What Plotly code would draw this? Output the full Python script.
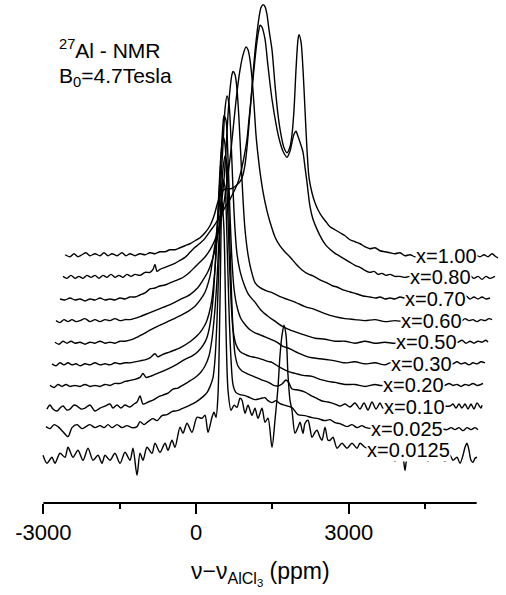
import plotly.graph_objects as go

# ---------------- data (ppm, intensity in a.u.) ----------------
labels = ["x=1.00", "x=0.80", "x=0.70", "x=0.60", "x=0.50",
          "x=0.30", "x=0.20", "x=0.10", "x=0.025", "x=0.0125"]

spec_100 = [(-2574,1),(-2476,-1),(-2397,2),(-2319,-1),(-2240,1),(-2162,3),(-2083,0),(-1985,2),(-1886,0),(-1808,3),(-1729,0),(-1651,2),(-1552,0),(-1454,3),(-1376,0),(-1297,2),(-1199,0),(-1100,2),(-1002,1),(-904,3),(-806,2),(-707,4),(-609,4),(-511,6),(-413,6),(-314,8),(-216,10),(-118,12),(-20,15),(79,18),(177,23),(275,30),(354,40),(432,54),(511,64),(590,67),(688,67),(786,70),(865,74),(924,81),(963,91),(1002,108),(1041,131),(1081,156),(1120,181),(1159,204),(1199,223),(1238,238),(1277,248),(1317,251),(1356,249),(1395,241),(1434,226),(1493,206),(1552,171),(1611,141),(1670,121),(1729,108),(1788,103),(1847,109),(1886,121),(1926,146),(1965,186),(2004,216),(2024,221),(2063,214),(2103,186),(2142,146),(2181,106),(2221,78),(2279,63),(2338,53),(2397,46),(2476,39),(2555,34),(2633,29),(2731,26),(2830,23),(2928,20),(3026,16),(3124,14),(3223,12),(3321,9),(3419,7),(3517,8),(3616,5),(3714,4),(3812,3),(3910,2),(4009,3),(4107,0),(4205,1),(4303,-1),(4402,0),(4500,1),(4598,0),(4696,1),(4795,0),(4893,1),(4991,0),(5089,1),(5188,0),(5286,1),(5384,0),(5482,1),(5581,-1),(5660,1),(5738,-1),(5817,2),(5895,-1),(5934,-2)]

spec_080 = [(-2613,1),(-2535,-1),(-2456,2),(-2378,-1),(-2299,1),(-2220,-1),(-2142,2),(-2063,0),(-1985,2),(-1906,-1),(-1827,2),(-1749,0),(-1670,3),(-1592,0),(-1513,2),(-1434,0),(-1356,3),(-1277,1),(-1199,3),(-1100,2),(-1002,5),(-904,5),(-845,8),(-806,13),(-766,6),(-707,8),(-609,10),(-511,12),(-413,14),(-314,17),(-216,20),(-118,25),(-20,30),(79,34),(177,39),(275,46),(373,53),(472,61),(570,70),(668,78),(747,86),(825,95),(884,106),(943,120),(1002,138),(1041,158),(1081,178),(1120,198),(1159,218),(1199,236),(1238,248),(1258,252),(1297,250),(1356,238),(1415,211),(1493,178),(1592,148),(1651,135),(1710,126),(1788,120),(1847,126),(1886,135),(1926,143),(1965,146),(2004,141),(2044,135),(2103,125),(2142,110),(2181,95),(2240,71),(2299,58),(2378,48),(2476,38),(2555,32),(2633,28),(2731,24),(2830,21),(2928,18),(3026,15),(3124,12),(3223,10),(3321,7),(3419,5),(3498,6),(3576,3),(3655,4),(3734,2),(3812,3),(3910,1),(4009,1),(4107,0),(4205,1),(4303,0),(4402,0),(4598,1),(4795,0),(4991,1),(5188,0),(5286,0),(5384,2),(5462,-1),(5541,1),(5620,-2),(5698,1),(5777,-1),(5875,1)]

spec_070 = [(-2672,0),(-2574,-1),(-2476,1),(-2378,-1),(-2279,0),(-2181,-2),(-2083,0),(-1985,-1),(-1886,1),(-1788,-1),(-1690,0),(-1592,-1),(-1493,1),(-1395,0),(-1297,2),(-1199,2),(-1100,4),(-1002,6),(-904,10),(-806,11),(-707,13),(-609,14),(-511,16),(-413,18),(-314,20),(-216,23),(-118,27),(-20,32),(79,37),(177,42),(275,49),(354,57),(432,67),(511,84),(570,103),(629,124),(688,149),(747,179),(806,207),(865,229),(924,244),(983,252),(1022,249),(1061,239),(1100,221),(1140,194),(1179,164),(1218,144),(1258,127),(1317,107),(1395,88),(1454,77),(1552,62),(1651,53),(1749,47),(1847,42),(1965,35),(2083,29),(2201,25),(2299,23),(2437,19),(2574,16),(2692,13),(2771,12),(2889,9),(3026,7),(3164,5),(3282,3),(3419,2),(3537,1),(3616,2),(3714,0),(3812,1),(3910,0),(4009,2),(4087,1),(4205,1),(4402,0),(4598,1),(4795,0),(4991,1),(5188,1),(5227,1),(5306,3),(5384,0),(5462,2),(5541,0),(5620,2),(5698,0),(5777,1)]

spec_060 = [(-2751,0),(-2672,-2),(-2594,1),(-2515,-1),(-2437,1),(-2358,-1),(-2279,0),(-2181,2),(-2083,-1),(-1985,1),(-1886,-1),(-1788,1),(-1690,0),(-1592,2),(-1493,0),(-1395,1),(-1297,1),(-1100,4),(-904,8),(-707,12),(-511,16),(-314,21),(-118,26),(20,32),(118,39),(236,49),(334,63),(413,81),(472,101),(511,121),(550,141),(590,171),(629,206),(668,231),(707,246),(727,249),(766,246),(806,231),(845,201),(884,161),(924,121),(963,91),(1022,66),(1081,51),(1159,38),(1258,33),(1375,30),(1493,28),(1651,24),(1808,21),(1965,18),(2142,14),(2338,11),(2535,7),(2731,4),(2928,2),(3124,1),(3321,0),(3517,1),(3714,-1),(3910,0),(4107,-1),(4205,0),(4402,0),(4598,1),(4795,0),(4991,1),(5129,1),(5207,-1),(5286,2),(5364,0),(5443,1),(5521,-1),(5600,1),(5679,0),(5757,2),(5816,1)]

spec_050 = [(-2771,0),(-2692,-2),(-2613,1),(-2535,-1),(-2456,1),(-2378,-1),(-2279,0),(-2181,-2),(-2083,0),(-1985,-1),(-1886,1),(-1788,-1),(-1690,0),(-1592,-1),(-1493,1),(-1395,1),(-1238,3),(-1081,7),(-904,12),(-707,17),(-452,23),(-216,29),(-20,36),(79,42),(177,50),(275,66),(334,85),(393,105),(452,133),(491,163),(531,198),(570,233),(609,246),(648,238),(688,203),(727,153),(766,113),(806,88),(865,71),(943,58),(1041,47),(1159,40),(1277,32),(1415,26),(1552,21),(1690,16),(1808,13),(1965,10),(2142,7),(2338,4),(2535,3),(2731,1),(2928,1),(3124,-1),(3321,1),(3517,-1),(3714,0),(3910,-1),(4009,1),(4205,0),(4402,0),(4598,1),(4795,0),(4991,0),(5148,0),(5227,2),(5306,-1),(5384,1),(5462,-1),(5541,1),(5620,0),(5698,2),(5738,0)]

spec_030 = [(-2830,0),(-2751,-2),(-2672,1),(-2594,-1),(-2515,1),(-2437,-1),(-2358,0),(-2279,-2),(-2181,0),(-2083,-1),(-1985,1),(-1886,-1),(-1788,0),(-1690,-1),(-1592,1),(-1493,0),(-1395,1),(-1297,1),(-1199,2),(-1100,3),(-1002,4),(-904,6),(-806,10),(-747,7),(-668,9),(-511,12),(-314,16),(-118,22),(20,28),(118,34),(197,41),(255,50),(314,65),(373,95),(413,125),(452,165),(491,205),(531,240),(550,248),(590,243),(629,205),(668,150),(707,103),(747,75),(806,57),(884,45),(983,38),(1061,34),(1159,31),(1258,29),(1356,27),(1493,24),(1611,21),(1690,18),(1847,15),(2004,11),(2142,8),(2279,6),(2437,5),(2594,4),(2731,3),(2928,1),(3124,2),(3321,0),(3517,1),(3714,-1),(3812,1),(4009,0),(4205,1),(4402,0),(4598,0),(4795,1),(4991,0),(5050,0),(5129,2),(5207,0),(5286,1),(5364,-1),(5443,1),(5521,0),(5600,2),(5679,1)]

spec_020 = [(-2869,0),(-2790,-2),(-2712,1),(-2633,-1),(-2555,1),(-2476,-1),(-2378,0),(-2279,-1),(-2181,1),(-2083,-1),(-1985,0),(-1886,-1),(-1788,1),(-1690,0),(-1592,2),(-1493,2),(-1395,4),(-1297,5),(-1199,6),(-1100,8),(-1041,12),(-983,8),(-904,9),(-806,11),(-707,13),(-570,16),(-413,20),(-216,26),(-59,30),(39,34),(138,40),(216,48),(275,61),(334,86),(373,116),(413,156),(452,196),(491,231),(531,249),(570,241),(609,196),(648,136),(688,86),(727,56),(786,41),(865,34),(963,31),(1061,29),(1159,28),(1297,26),(1415,24),(1493,23),(1651,18),(1808,14),(1945,12),(2103,10),(2279,9),(2437,6),(2594,4),(2731,3),(2928,1),(3124,1),(3321,-1),(3517,1),(3616,0),(3812,0),(4009,1),(4205,0),(4402,1),(4598,0),(4795,0),(4893,0),(4972,2),(5050,0),(5129,1),(5207,-1),(5286,1),(5364,0),(5443,2),(5521,0),(5600,1),(5639,2)]

spec_010 = [(-2928,-2),(-2869,2),(-2810,-2),(-2731,-4),(-2672,-1),(-2613,1),(-2535,-3),(-2476,-2),(-2397,2),(-2338,1),(-2260,-2),(-2181,-1),(-2083,2),(-1985,-4),(-1886,-1),(-1788,1),(-1690,3),(-1631,-1),(-1552,2),(-1474,-1),(-1395,2),(-1297,0),(-1218,3),(-1159,5),(-1100,11),(-1041,3),(-943,5),(-845,7),(-747,10),(-648,12),(-550,14),(-452,18),(-354,19),(-255,22),(-157,25),(-59,28),(20,31),(98,35),(177,41),(255,51),(314,68),(373,98),(413,128),(452,168),(491,208),(531,238),(570,251),(609,243),(648,193),(688,128),(727,78),(766,53),(825,41),(904,36),(1022,33),(1159,30),(1297,27),(1415,25),(1513,22),(1611,21),(1690,23),(1769,27),(1827,24),(1886,18),(2004,17),(2142,15),(2279,11),(2397,8),(2476,6),(2594,5),(2731,3),(2830,1),(2928,3),(3026,0),(3124,4),(3223,-2),(3301,4),(3380,-3),(3458,5),(3537,-2),(3616,4),(3675,-1),(3812,0),(4009,1),(4205,0),(4402,1),(4598,0),(4795,1),(4991,1),(5050,3),(5109,-1),(5168,3),(5227,-1),(5286,3),(5345,-2),(5404,3),(5462,-2),(5521,4),(5600,-1),(5620,2)]

spec_0025 = [(-2948,2),(-2869,0),(-2790,4),(-2712,2),(-2613,-3),(-2515,-8),(-2437,1),(-2338,4),(-2240,0),(-2162,2),(-2083,4),(-1985,1),(-1886,3),(-1808,1),(-1729,4),(-1651,1),(-1552,4),(-1454,1),(-1356,3),(-1258,1),(-1159,2),(-1100,7),(-1022,4),(-943,7),(-845,10),(-766,8),(-668,13),(-570,14),(-472,17),(-373,18),(-275,20),(-177,22),(-59,25),(39,28),(138,32),(216,36),(275,42),(334,51),(373,69),(413,109),(452,169),(491,219),(531,249),(570,241),(609,189),(648,119),(688,69),(727,44),(786,36),(865,34),(963,33),(1061,31),(1159,29),(1258,30),(1356,31),(1415,28),(1493,26),(1572,28),(1651,25),(1769,23),(1886,21),(2004,14),(2142,13),(2279,11),(2397,10),(2535,8),(2633,9),(2731,6),(2830,5),(2967,2),(3065,4),(3164,1),(3262,3),(3341,1),(3616,0),(4009,1),(4402,0),(4795,0),(4932,-1),(5011,1),(5089,-1),(5168,1),(5247,-2),(5325,1),(5404,-1),(5482,1),(5541,-1)]

spec_00125 = [(-3006,-5),(-2928,-13),(-2830,-7),(-2771,-13),(-2672,-3),(-2574,-7),(-2515,3),(-2417,-7),(-2319,0),(-2220,-10),(-2122,2),(-2024,-10),(-1926,-5),(-1847,-13),(-1788,-5),(-1690,-10),(-1592,-3),(-1493,-13),(-1395,-2),(-1297,-10),(-1238,2),(-1159,-25),(-1100,-3),(-1041,-10),(-963,3),(-865,-3),(-806,7),(-707,-2),(-609,7),(-550,0),(-472,10),(-413,3),(-314,23),(-255,17),(-177,27),(-79,18),(20,33),(118,32),(177,35),(236,18),(314,33),(354,38),(393,33),(432,55),(472,150),(511,250),(550,220),(590,120),(629,60),(688,40),(747,45),(806,43),(865,52),(904,50),(963,37),(1022,45),(1100,35),(1159,42),(1218,32),(1297,42),(1356,28),(1415,32),(1493,3),(1552,30),(1611,63),(1651,95),(1690,115),(1729,125),(1769,115),(1808,75),(1847,50),(1886,40),(1945,17),(2004,23),(2044,28),(2103,17),(2142,27),(2201,30),(2240,22),(2279,13),(2338,18),(2378,20),(2437,13),(2476,10),(2535,23),(2594,10),(2633,10),(2692,13),(2771,2),(2869,7),(2967,2),(3065,7),(3164,2),(3223,7),(3321,3),(3419,1),(3517,-2),(3616,0),(3714,-5),(3812,-2),(3910,-11),(4009,-5),(4067,-8),(4107,-20),(4146,-8),(4244,-2),(4362,-5),(4480,-2),(4559,-11),(4638,-3),(4756,-5),(4893,-11),(4991,-5),(5050,-10),(5129,-7),(5188,-13),(5247,-5),(5286,3),(5325,7),(5364,0),(5404,-10),(5443,-12),(5482,-8),(5521,-7)]

spectra = [spec_100, spec_080, spec_070, spec_060, spec_050,
           spec_030, spec_020, spec_010, spec_0025, spec_00125]

tick_vals = [-3000, 0, 3000]
tick_text = ["-3000", "0", "3000"]
minor_vals = [-1500, 1500, 4500]
axis_span = [-3000, 5515]

# ---------------- layout constants ----------------
W, H = 506, 595
BOTTOM = 145.0      # vertical offset of the lowest trace
STEP = 21.6         # vertical step between stacked traces
label_ppm = [4932, 4814, 4706, 4628, 4530, 4431, 4274, 4294, 4137, 4166]
FONT = "Liberation Sans, Arial, sans-serif"

zero_px = 196.0
ppm_per_px = 19.65
axis_y_px = 502.7
right_px = 500.0


def paper_x(px):
    return px / right_px


def paper_y(py):
    return (axis_y_px - py) / axis_y_px


fig = go.Figure()

n = len(spectra)
for i, spec in enumerate(spectra):
    off = BOTTOM + STEP * (n - 1 - i)
    xs = [p for p, _ in spec]
    ys = [off + v for _, v in spec]
    fig.add_trace(go.Scatter(x=xs, y=ys, mode="lines",
                             line=dict(color="black", width=1.4, shape="spline",
                                       smoothing=0.8),
                             showlegend=False, hoverinfo="skip"))

annotations = []
for i, lab in enumerate(labels):
    off = BOTTOM + STEP * (n - 1 - i)
    annotations.append(dict(x=label_ppm[i], y=off, xref="x", yref="y",
                            text=lab, showarrow=False, bgcolor="white",
                            borderpad=0, xanchor="center", yanchor="middle",
                            font=dict(family=FONT, size=20, color="black")))

annotations.append(dict(x=paper_x(57), y=paper_y(49), xref="paper", yref="paper",
                        text="<sup>27</sup>Al - NMR", showarrow=False,
                        xanchor="left", yanchor="middle",
                        font=dict(family=FONT, size=21, color="black")))
annotations.append(dict(x=paper_x(57), y=paper_y(77), xref="paper", yref="paper",
                        text="B<sub>0</sub>=4.7Tesla", showarrow=False,
                        xanchor="left", yanchor="middle",
                        font=dict(family=FONT, size=21, color="black")))
# x-axis title, centred under the drawn axis line
annotations.append(dict(x=paper_x(260), y=paper_y(573), xref="paper", yref="paper",
                        text="ν−ν<sub>AlCl<sub>3</sub></sub> (ppm)", showarrow=False,
                        xanchor="center", yanchor="middle",
                        font=dict(family=FONT, size=23, color="black")))

fig.update_layout(
    width=W, height=H, autosize=False,
    margin=dict(l=0, r=W - right_px, t=0, b=H - axis_y_px, pad=0, autoexpand=False),
    paper_bgcolor="white", plot_bgcolor="white",
    showlegend=False,
    annotations=annotations,
    shapes=[dict(type="line", xref="x", yref="y domain",
                 x0=axis_span[0], x1=axis_span[1], y0=0, y1=0,
                 line=dict(color="black", width=2))],
    xaxis=dict(range=[-zero_px * ppm_per_px, (right_px - zero_px) * ppm_per_px],
               showline=False, automargin=False,
               ticks="outside", ticklen=10, tickwidth=2, tickcolor="black",
               tickmode="array", tickvals=tick_vals, ticktext=tick_text,
               tickfont=dict(family=FONT, size=22, color="black"),
               showgrid=False, zeroline=False,
               minor=dict(tickmode="array", tickvals=minor_vals, ticks="outside",
                          ticklen=5, tickwidth=2, tickcolor="black", showgrid=False)),
    yaxis=dict(range=[H - axis_y_px, H], visible=False, automargin=False),
)

fig.write_html("out.html", config={"responsive": False, "displayModeBar": False},
               post_script="document.body.style.margin='0px';document.body.style.overflow='hidden';")
